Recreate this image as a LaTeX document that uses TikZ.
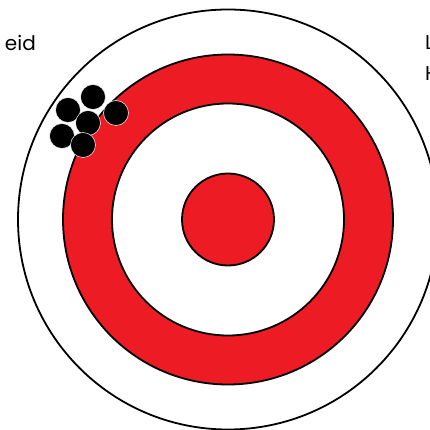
\documentclass[tikz,border=0pt]{standalone}
\usepackage{fontspec}
\setmainfont{Poppins}
\usetikzlibrary{positioning}
\definecolor{tgt}{HTML}{ED1C24}

\begin{document}
\begin{tikzpicture}[x=1pt, y=-1pt,
  ring/.style={circle, draw=black, line width=1.8pt, inner sep=0pt},
  shot/.style={circle, fill=black, draw=white, line width=0.5pt, minimum size=25pt, inner sep=0pt},
  lab/.style={font=\fontsize{20}{24}\selectfont, inner sep=0pt}]
\useasboundingbox (0,0) rectangle (429,430);
\coordinate (ctr) at (228,219.5);
% rings
\node[ring, fill=white, minimum size=420pt] (outer) at (ctr) {};
\node[ring, fill=tgt, minimum size=330pt] (redring) at (ctr) {};
\node[ring, fill=white, minimum size=232pt] (whitering) at (ctr) {};
\node[ring, fill=tgt, minimum size=92pt] (bull) at (ctr) {};
% shots
\foreach \n/\x/\y in {a/93/97, b/68/110, c/116/113, d/88/123, e/62/136, f/83/145}
  \node[shot] (shot\n) at (\x,\y) {};
% labels, cut off at the edges
\node[lab, anchor=base east] (lefttxt) at (36,51) {eid};
\node[lab, anchor=base west] (righttop) at (425,50) {L};
\node[lab, anchor=base west] (rightbot) at (425,81) {H};
\end{tikzpicture}
\end{document}
